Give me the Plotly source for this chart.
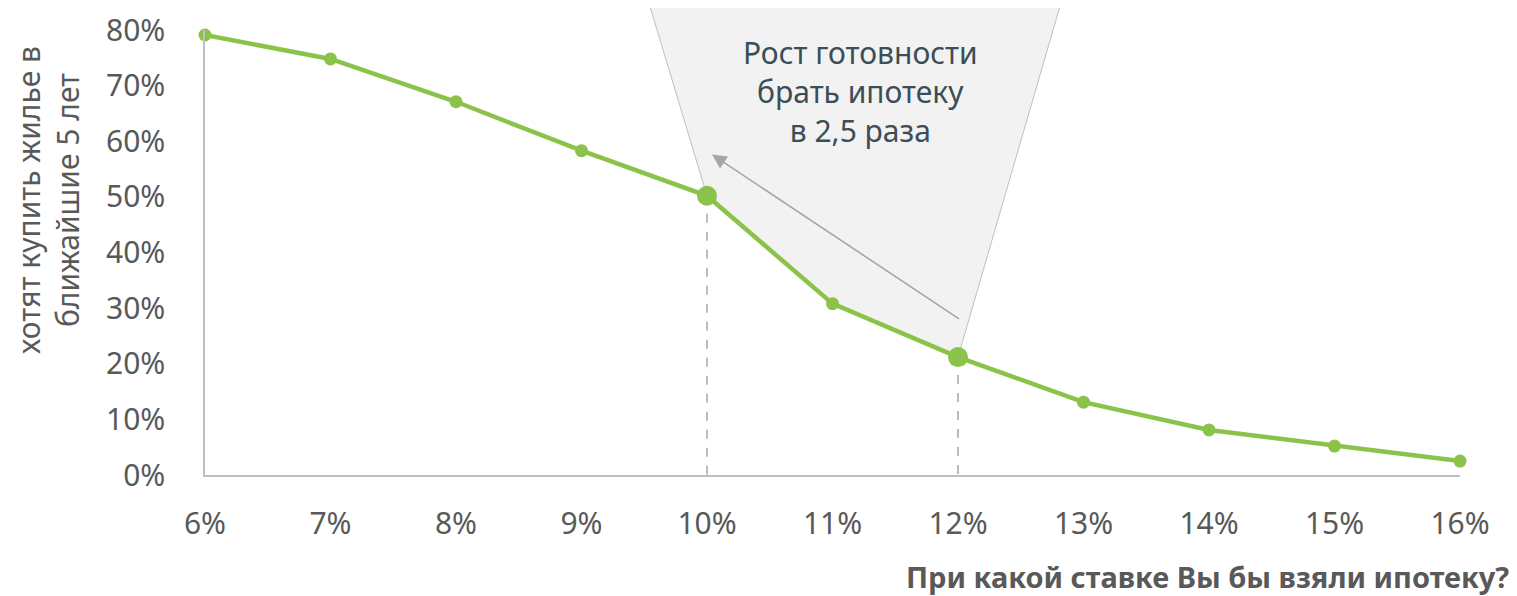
import plotly.graph_objects as go

# ставка по ипотеке, % и доля желающих купить жильё
rates = [6, 7, 8, 9, 10, 11, 12, 13, 14, 15, 16]
share = [0.791, 0.748, 0.671, 0.583, 0.502, 0.308, 0.212, 0.131, 0.081, 0.052, 0.025]
rate_labels = [f"{r}%" for r in rates]
highlight = [10, 12]  # точки, между которыми рост в 2,5 раза

GREEN = "#8BC34A"
GREY = "#595959"
FONT = "Noto Sans"
Y_MAX = 0.8

val = dict(zip(rates, share))

fig = go.Figure()
fig.add_trace(go.Scatter(
    x=rates, y=share, mode="lines+markers",
    line=dict(color=GREEN, width=4.5),
    marker=dict(color=GREEN, opacity=1, line=dict(width=0),
                size=[20 if r in highlight else 13 for r in rates]),
    cliponaxis=False, hoverinfo="skip", showlegend=False,
))

# серая воронка-выноска (x - в данных, y - в долях области)
lo, hi = highlight
mid = [r for r in rates if lo < r < hi]
top_y = 1 + 40 / 445
path = f"M 9.506,{top_y} L 12.85,{top_y} L {hi},{val[hi] / Y_MAX}"
for r in reversed(mid):
    path += f" L {r},{val[r] / Y_MAX}"
path += f" L {lo},{val[lo] / Y_MAX} Z"

shapes = [dict(type="path", path=path, xref="x", yref="paper",
               fillcolor="#F2F2F2", line=dict(color="#BFBFBF", width=1), layer="below")]
for r in highlight:
    shapes.append(dict(type="line", xref="x", yref="paper", x0=r, x1=r,
                       y0=val[r] / Y_MAX, y1=-0.012,
                       line=dict(color="#A6A6A6", width=1.5, dash="dash"), layer="below"))

annotations = [
    dict(text="Рост готовности<br>брать ипотеку<br>в 2,5 раза", x=11.22, y=0.69,
         xref="x", yref="y", showarrow=False, align="center",
         font=dict(family=FONT, size=30, color="#3B4E57")),
    dict(x=10.04, y=0.576, ax=12.02, ay=0.279, xref="x", yref="y", axref="x", ayref="y",
         text="", showarrow=True, arrowhead=2, arrowsize=1.8, arrowwidth=1.6,
         arrowcolor="#A6A6A6"),
    dict(text="хотят купить жилье в<br>ближайшие 5 лет", textangle=-90,
         x=(48 - 205) / 1255, y=(475 - 200) / 445, xref="paper", yref="paper",
         xanchor="center", yanchor="middle", showarrow=False, align="center",
         borderpad=0, font=dict(family=FONT, size=30, color=GREY)),
    dict(text="<b>При какой ставке Вы бы взяли ипотеку?</b>",
         x=(1510 - 205) / 1255, y=(475 - 576) / 445, xref="paper", yref="paper",
         xanchor="right", yanchor="middle", showarrow=False, borderpad=0,
         font=dict(family=FONT, size=29, color=GREY)),
]

# страница имеет отступ 8 px, поэтому поля уменьшены на 8
fig.update_layout(
    width=1509, height=588,
    margin=dict(l=197, r=57, t=22, b=121, autoexpand=False),
    paper_bgcolor="white", plot_bgcolor="white",
    font=dict(family=FONT, color=GREY),
    shapes=shapes, annotations=annotations,
    xaxis=dict(range=[6, 16], tickvals=rates, ticktext=rate_labels, automargin=False,
               showgrid=False, zeroline=False, showline=True,
               linecolor="#BFBFBF", linewidth=1.5, ticks="",
               ticklabelstandoff=21, tickfont=dict(size=30, color=GREY)),
    yaxis=dict(range=[0, Y_MAX], tickvals=[i / 10 for i in range(9)], automargin=False,
               tickformat=".0%", showgrid=False, zeroline=False, showline=True,
               linecolor="#BFBFBF", linewidth=1.5, ticks="",
               ticklabelstandoff=32, tickfont=dict(size=30, color=GREY)),
)

fig.write_html("out.html")
